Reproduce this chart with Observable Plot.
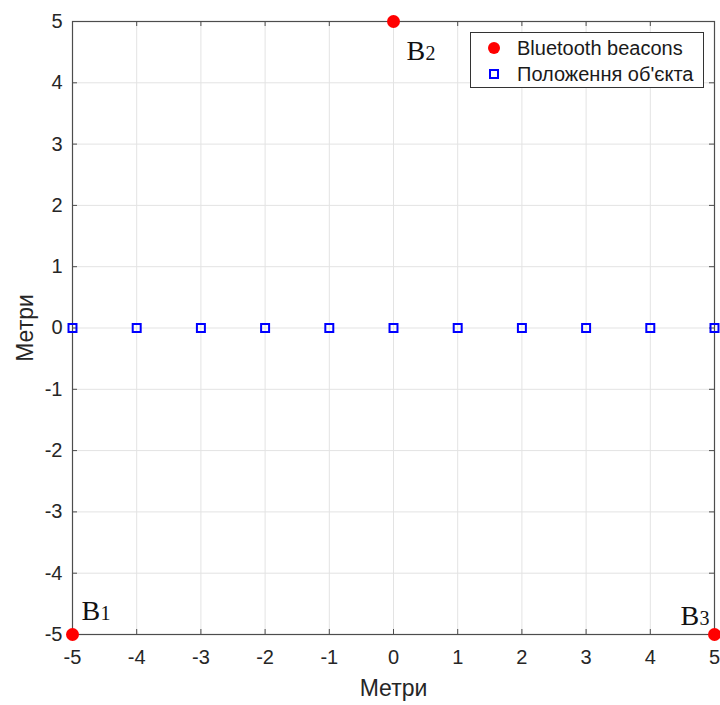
<!DOCTYPE html>
<html>
<head>
<meta charset="utf-8">
<script src="https://cdn.jsdelivr.net/npm/d3@7"></script>
<script src="https://cdn.jsdelivr.net/npm/@observablehq/plot@0.6"></script>
<style>
  body { margin: 0; background: white; }
  #wrap { position: relative; width: 720px; height: 705px; font-family: "Liberation Sans", Arial, sans-serif; }
  #legend { position: absolute; left: 470px; top: 32px; width: 232px; height: 54px; border: 1px solid #333; background: white; box-sizing: content-box; }
  .row { position: absolute; left: 0; height: 22px; display: flex; align-items: center; font-size: 20px; color: #1a1a1a; white-space: nowrap; }
  .sym { width: 46px; display: flex; justify-content: center; }
  .dotsym { width: 12px; height: 12px; border-radius: 50%; background: #ff0000; }
  .sqsym { width: 6px; height: 6px; border: 2px solid #0000ff; }
</style>
</head>
<body>
<div id="wrap"></div>
<script>
// Data
const tickValues = [-5, -4, -3, -2, -1, 0, 1, 2, 3, 4, 5];
const beaconX = [-5, 0, 5];
const beaconY = [-5, 5, -5];
const beaconNames = ["1", "2", "3"];
const objectX = [-5, -4, -3, -2, -1, 0, 1, 2, 3, 4, 5];
const objectY = [0, 0, 0, 0, 0, 0, 0, 0, 0, 0, 0];
const seriesNames = ["Bluetooth beacons", "Положення об'єкта"];
const axisLabel = "Метри";

const beacons = beaconX.map((x, i) => ({x, y: beaconY[i], name: beaconNames[i]}));
const objects = objectX.map((x, i) => ({x, y: objectY[i]}));

// label offsets (style)
const labelDx = [9, 13, -34];
const labelDy = [-15, 38, -10];
const labels = beacons.map((d, i) => ({...d, dx: labelDx[i], dy: labelDy[i]}));

const fmt = d => (d < 0 ? "-" + Math.abs(d) : String(d));
const tickColor = "#4d4d4d";
const marks = [
  Plot.gridX(tickValues, {stroke: "#e3e3e3", strokeOpacity: 1}),
  Plot.gridY(tickValues, {stroke: "#e3e3e3", strokeOpacity: 1}),
  Plot.frame({stroke: tickColor, strokeWidth: 1.2}),
  // inward ticks
  Plot.ruleX(tickValues, {x: d => d, y1: -5, y2: -5, insetTop: -5, stroke: tickColor}),
  Plot.ruleX(tickValues, {x: d => d, y1: 5, y2: 5, insetBottom: -5, stroke: tickColor}),
  Plot.ruleY(tickValues, {y: d => d, x1: -5, x2: -5, insetRight: -5, stroke: tickColor}),
  Plot.ruleY(tickValues, {y: d => d, x1: 5, x2: 5, insetLeft: -5, stroke: tickColor}),
  Plot.axisX(tickValues, {tickSize: 0, tickPadding: 15, tickFormat: fmt, fontSize: 20, fill: "#262626", label: null}),
  Plot.axisY(tickValues, {tickSize: 0, tickPadding: 10, tickFormat: fmt, fontSize: 20, fill: "#262626", label: null}),
  Plot.text([axisLabel], {frameAnchor: "bottom", lineAnchor: "middle", textAnchor: "middle", dy: 54, fontSize: 23, fill: "#262626"}),
  Plot.text([axisLabel], {frameAnchor: "left", rotate: -90, textAnchor: "middle", lineAnchor: "middle", dx: -47, fontSize: 23, fill: "#262626"}),
  Plot.dot(objects, {x: "x", y: "y", symbol: "square", r: 4.5, stroke: "#0000ff", strokeWidth: 2, fill: "none"}),
  Plot.dot(beacons, {x: "x", y: "y", r: 6.5, fill: "#ff0000"}),
  ...labels.map(d => Plot.text([d], {x: "x", y: "y", text: () => "B", dx: d.dx, dy: d.dy, textAnchor: "start", lineAnchor: "bottom", fontFamily: "Liberation Serif, Times New Roman, serif", fontSize: 28, fill: "#111"})),
  ...labels.map(d => Plot.text([d], {x: "x", y: "y", text: "name", dx: d.dx + 19, dy: d.dy, textAnchor: "start", lineAnchor: "bottom", fontFamily: "Liberation Serif, Times New Roman, serif", fontSize: 20, fill: "#111"}))
];

const chart = Plot.plot({
  width: 720,
  height: 705,
  marginLeft: 72,
  marginRight: 6,
  marginTop: 21,
  marginBottom: 71,
  x: {domain: [-5, 5], label: null},
  y: {domain: [-5, 5], label: null},
  style: {fontFamily: "Liberation Sans, Arial, sans-serif", background: "white", overflow: "visible"},
  marks
});

const wrap = document.getElementById("wrap");
wrap.appendChild(chart);

const legend = document.createElement("div");
legend.id = "legend";
legend.innerHTML = `
  <div class="row" style="top:4px"><div class="sym"><div class="dotsym"></div></div><span>${seriesNames[0]}</span></div>
  <div class="row" style="top:30px"><div class="sym"><div class="sqsym"></div></div><span>${seriesNames[1]}</span></div>`;
wrap.appendChild(legend);
</script>
</body>
</html>
